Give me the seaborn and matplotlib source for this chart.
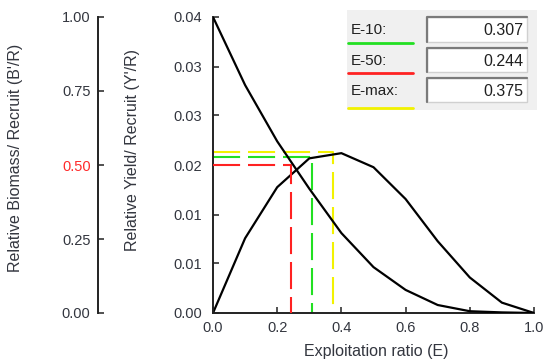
import numpy as np
import pandas as pd
import matplotlib
matplotlib.use("Agg")
import matplotlib.pyplot as plt
from matplotlib.patches import Rectangle
from matplotlib.lines import Line2D
import seaborn as sns

# ---------------- data ----------------
exploitation = [0.0, 0.1, 0.2, 0.3, 0.4, 0.5, 0.6, 0.7, 0.8, 0.9, 1.0]
rel_yield = [0.0, 0.0101, 0.0170, 0.0209, 0.0216, 0.0197, 0.0154, 0.0097, 0.0048, 0.0014, 0.0]
rel_biomass = [1.0, 0.77, 0.58, 0.42, 0.27, 0.155, 0.078, 0.027, 0.006, 0.002, 0.0]

e_labels = ["E-10:", "E-50:", "E-max:"]
e_values = [0.307, 0.244, 0.375]
e_colors = ["#22e022", "#ff2222", "#f2f200"]
e10_yield = 0.0211
e50_biomass = 0.5
emax_yield = 0.0218

yield_ticks = [0.0, 0.0067, 0.0133, 0.02, 0.0267, 0.0333, 0.04]
yield_ticklabels = ["0.00", "0.01", "0.01", "0.02", "0.03", "0.03", "0.04"]
biomass_ticks = [0.0, 0.25, 0.5, 0.75, 1.0]
biomass_ticklabels = ["0.00", "0.25", "0.50", "0.75", "1.00"]
x_ticks = [0.0, 0.2, 0.4, 0.6, 0.8, 1.0]
x_ticklabels = ["0.0", "0.2", "0.4", "0.6", "0.8", "1.0"]

# ---------------- style ----------------
sns.set_style("ticks")
plt.rcParams["font.family"] = ["Liberation Sans", "DejaVu Sans"]
TXT = "#33363f"

W, H = 553, 363
fig = plt.figure(figsize=(W / 100, H / 100), dpi=100)
fx = lambda px: px / W
fy = lambda py: 1 - py / H

ax = fig.add_axes([fx(213), fy(313), fx(534) - fx(213), fy(17) - fy(313)])
ax2 = ax.twinx()

df = pd.DataFrame({"E": exploitation, "Y": rel_yield, "B": rel_biomass})
sns.lineplot(data=df, x="E", y="Y", ax=ax, color="black", lw=1.6, sort=False)
sns.lineplot(data=df, x="E", y="B", ax=ax2, color="black", lw=1.6, sort=False)

dash = (13, 3.8)
# E-10 (green) and E-max (yellow) on yield axis
ax.plot([0, e_values[0], e_values[0]], [e10_yield, e10_yield, 0], color=e_colors[0],
        lw=1.5, dashes=dash, zorder=1)
ax.plot([0, e_values[2], e_values[2]], [emax_yield, emax_yield, 0], color=e_colors[2],
        lw=1.5, dashes=dash, zorder=1)
# E-50 (red) on biomass axis
ax2.plot([0, e_values[1], e_values[1]], [e50_biomass, e50_biomass, 0], color=e_colors[1],
         lw=1.5, dashes=dash, zorder=1)

ax.set_xlim(0, 1)
ax.set_ylim(0, 0.04)
ax2.set_ylim(0, 1)

for s in ["top", "right"]:
    ax.spines[s].set_visible(False)
for s in ["top", "right", "bottom"]:
    ax2.spines[s].set_visible(False)
for s in ["left", "bottom"]:
    ax.spines[s].set_linewidth(1.4)
    ax.spines[s].set_color("#222222")

ax.set_xticks(x_ticks)
ax.set_xticklabels(x_ticklabels)
ax.set_yticks(yield_ticks)
ax.set_yticklabels(yield_ticklabels)
ax.tick_params(axis="both", direction="in", length=4, width=1.1, colors="#222222",
               labelcolor=TXT, labelsize=10.5)
ax.tick_params(axis="y", pad=8)
ax.tick_params(axis="x", pad=6)

ax2.spines["left"].set_visible(True)
ax2.spines["left"].set_position(("outward", (213 - 97.5) * 0.72))
ax2.spines["left"].set_linewidth(1.4)
ax2.spines["left"].set_color("#222222")
ax2.yaxis.set_ticks_position("left")
ax2.yaxis.set_label_position("left")
ax2.set_yticks(biomass_ticks)
ax2.set_yticklabels(biomass_ticklabels)
ax2.tick_params(axis="y", direction="in", length=4, width=1.1, colors="#222222",
                labelcolor=TXT, labelsize=10.5, pad=5)
for t, lab in zip(ax2.yaxis.get_major_ticks(), biomass_ticklabels):
    if lab == "0.50":
        t.label1.set_color("#ff2a2a")
        t.tick1line.set_color("#ff2a2a")

ax.set_xlabel("Exploitation ratio (E)", fontsize=11.5, color=TXT)
ax.xaxis.set_label_coords(0.51, -0.105)
ax.set_ylabel("Relative Yield/ Recruit (Y'/R)", fontsize=11.5, color=TXT)
ax.yaxis.set_label_coords(-0.227, 0.55)
ax2.set_ylabel("Relative Biomass/ Recruit (B'/R)", fontsize=11.5, color=TXT)
ax2.yaxis.set_label_coords(-0.592, 0.524)

# ---------------- legend panel ----------------
tf = fig.transFigure
fig.add_artist(Rectangle((fx(347), fy(110)), fx(537) - fx(347), fy(10) - fy(110),
                         transform=tf, facecolor="#f0f0f0", edgecolor="none", zorder=5))
rows = [(17, 42), (48, 72), (78, 102)]
underline_y = [43, 73, 108]
for (top, bot), lab, val, col, uy in zip(rows, e_labels, e_values, e_colors, underline_y):
    fig.add_artist(Rectangle((fx(427), fy(bot)), fx(527) - fx(427), fy(top) - fy(bot),
                             transform=tf, facecolor="white", edgecolor="#d0d0d0",
                             lw=1, zorder=6))
    fig.add_artist(Line2D([fx(427), fx(427), fx(527)], [fy(bot), fy(top), fy(top)],
                          transform=tf, color="#7a7a7a", lw=1.6, zorder=7))
    cy = (top + bot) / 2
    fig.text(fx(351), fy(cy + 1), lab, transform=tf, ha="left", va="center",
             fontsize=11, color="#202020", zorder=8)
    fig.text(fx(523), fy(cy + 1), f"{val:.3f}", transform=tf, ha="right", va="center",
             fontsize=11.5, color="#202020", zorder=8)
    fig.add_artist(Line2D([fx(348), fx(413)], [fy(uy), fy(uy)], transform=tf,
                          color=col, lw=2, zorder=7))

fig.savefig("out.png", dpi=100)
